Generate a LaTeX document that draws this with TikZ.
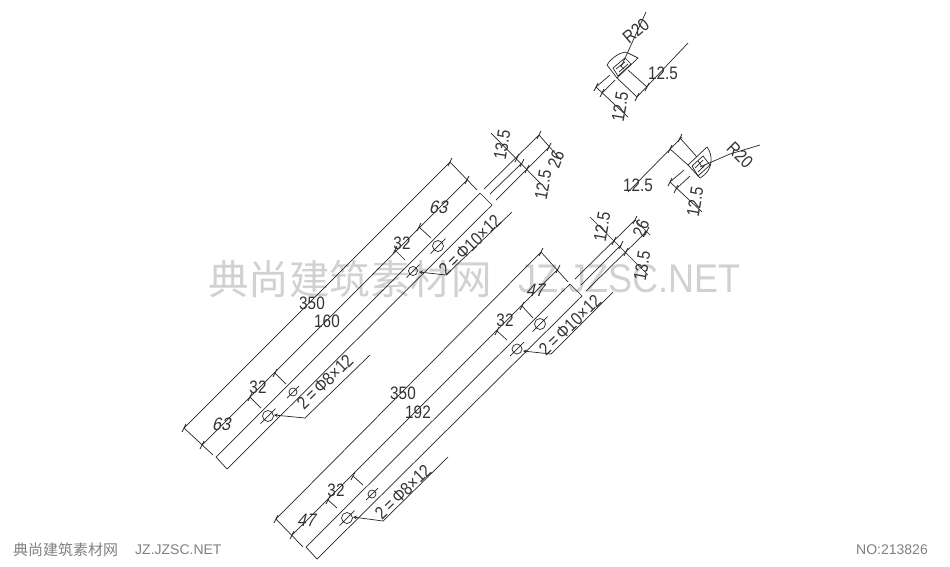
\documentclass[tikz,border=0pt]{standalone}
\usepackage{fontspec}
\setmainfont{Liberation Sans}
\newfontfamily\cjk{Noto Sans CJK SC}
\newfontfamily\cadfont[FakeStretch=0.85]{Liberation Sans}
\newfontfamily\cadslant[FakeStretch=0.9,FakeSlant=0.25]{Liberation Sans}
\newfontfamily\markfont[FakeStretch=0.9]{Liberation Sans}

\tikzset{
  part/.style={line width=0.7pt, black!85},
  leader/.style={part, <-, >=stealth},
  dimtext/.style={inner sep=0pt, black!80, font=\cadfont\fontsize{18}{18}\selectfont},
  slanttext/.style={dimtext, font=\cadslant\fontsize{18}{18}\selectfont},
  holetext/.style={dimtext, rotate=44},
  watermark/.style={inner sep=0pt, black!18},
  footer/.style={inner sep=0pt, black!50, font=\fontsize{14}{14}\selectfont},
}

\begin{document}
\begin{tikzpicture}[x=1pt,y=-1pt]
    \useasboundingbox (0,0) rectangle (950,566);
    % watermark
    \node[watermark, anchor=west, font=\cjk\fontsize{40.5}{40.5}\selectfont] (markcn) at (208,279) {典尚建筑素材网};
    \node[watermark, anchor=west, font=\markfont\fontsize{40}{40}\selectfont] (markla) at (518,279) {JZ.JZSC.NET};
    \node[footer, anchor=west, font=\cjk\fontsize{15}{15}\selectfont] (footcn) at (13,550) {典尚建筑素材网};
    \node[footer, anchor=west] (footla) at (135,550) {JZ.JZSC.NET};
    \node[footer, anchor=east] (footno) at (928,550) {NO:213826};

    % upper beam
    \draw[part] (184,428) -- (450,162);
    \draw[part] (202,445) -- (467,180);
    \draw[part] (216,457) -- (480,193);
    \draw[part] (227,469) -- (492,205);
    \draw[part] (184,428) -- (213,455);
    \draw[part] (450,162) -- (477,190);
    \draw[part] (216,457) -- (227,469);
    \draw[part] (480,193) -- (492,205);
    \draw[part] (250,397) -- (261,408);
    \draw[part] (275,373) -- (286,384);
    \draw[part] (395,250) -- (405,260);
    \draw[part] (419,227) -- (431,238);
    \draw[leader] (274,415) -- (305,418) -- (370,355);
    \draw[leader] (419,272) -- (446,275) -- (512,212);
    % upper beam, broken end
    \draw[part] (484,189) -- (539,135);
    \draw[part] (490,194) -- (522,163);
    \draw[part] (496,200) -- (549,147);
    \draw[part] (491,133) -- (540,183);
    \draw[part] (539,135) -- (561,160);

    % lower beam
    \draw[part] (276,519) -- (541,252);
    \draw[part] (292,535) -- (558,269);
    \draw[part] (306,547) -- (570,284);
    \draw[part] (317,559) -- (582,296);
    \draw[part] (276,519) -- (303,547);
    \draw[part] (541,252) -- (568,282);
    \draw[part] (306,547) -- (317,559);
    \draw[part] (570,284) -- (582,296);
    \draw[part] (328,500) -- (337,508);
    \draw[part] (353,476) -- (363,485);
    \draw[part] (497,331) -- (507,340);
    \draw[part] (522,306) -- (533,318);
    \draw[leader] (353,517) -- (383,521) -- (448,457);
    \draw[leader] (523,351) -- (551,354) -- (613,292);
    % lower beam, broken end
    \draw[part] (575,279) -- (635,220);
    \draw[part] (581,285) -- (621,245);
    \draw[part] (586,291) -- (647,231);
    \draw[part] (590,217) -- (648,275);
    \draw[part] (635,220) -- (650,235);

    % holes
    \foreach \x/\y/\r in {268/416/5.5, 293/392/4, 413/271/4.5, 438/246/5.5,
                          347/518/5.5, 372/494/4, 517/349/5, 540/324/5.5}
        \draw[part] (\x,\y) circle[radius=\r] ++(-\r-2,\r+2) -- ++(2*\r+4,-2*\r-4);

    % ticks
    \foreach \x/\y in {184/428, 202/445, 250/397, 275/373, 395/250, 419/227, 450/162, 467/180,
                       517/158, 522/163, 527/169, 539/135, 549/147,
                       276/519, 292/535, 328/500, 353/476, 497/331, 522/306, 541/252, 558/269,
                       614/241, 621/245, 626/252, 635/220, 647/231,
                       637/97, 647/87, 602/93, 596/87,
                       670/149, 680/138, 670/182, 676/189}
        \draw[part] (\x-2,\y+4) -- (\x+2,\y-4);

    % upper detail
    \draw[part] (607,65) .. controls (612,56) and (625,50) .. (628,53) -- (638,58) -- (617,78) -- cycle;
    \draw[part] (613,68) -- (625,58) -- (631,64) -- (618,76) -- cycle;
    \draw[part] (616,69) -- (625,62) (619,72) -- (628,64) (620,65) -- (624,69);
    \draw[part] (628,70) -- (647,87);
    \draw[part] (617,78) -- (637,97);
    \draw[part] (637,97) -- (688,43);
    \draw[part] (596,87) -- (610,75);
    \draw[part] (602,93) -- (615,80);
    \draw[part] (596,87) -- (628,117);
    \draw[part] (621,67) -- (646,12);

    % right detail
    \draw[part] (688,165) -- (707,147) .. controls (713,155) and (714,170) .. (700,178) -- cycle;
    \draw[part] (692,166) -- (703,156) -- (710,165) -- (698,176) -- cycle;
    \draw[part] (695,168) -- (703,160) (698,172) -- (706,164) (698,161) -- (703,168);
    \draw[part] (670,149) -- (688,165);
    \draw[part] (680,138) -- (697,157);
    \draw[part] (628,192) -- (682,137);
    \draw[part] (670,182) -- (684,170);
    \draw[part] (676,189) -- (690,176);
    \draw[part] (670,182) -- (702,212);
    \draw[part] (700,167) -- (730,154) .. controls (740,151) and (750,148) .. (760,145);

    % labels, upper beam
    \node[dimtext] (upperlen) at (312,303) {350};
    \node[dimtext] (upperpos) at (327,321) {160};
    \node[slanttext] (upperleft) at (221,424) {63};
    \node[dimtext] (upperpitcha) at (258,387) {32};
    \node[slanttext] (upperright) at (438,207) {63};
    \node[dimtext] (upperpitchb) at (402,243) {32};
    \node[holetext] (upperholea) at (325,382) {2\,=\,Φ8×12};
    \node[holetext] (upperholeb) at (470,245) {2\,=\,Φ10×12};
    \node[dimtext, rotate=80] (upperendb) at (502,145) {13.5};
    \node[dimtext, rotate=80] (upperendc) at (543,185) {12.5};
    \node[dimtext, rotate=70] (upperenda) at (556,159) {26};

    % labels, lower beam
    \node[dimtext] (lowerlen) at (403,393) {350};
    \node[dimtext] (lowerpos) at (418,412) {192};
    \node[slanttext] (lowerleft) at (306,520) {47};
    \node[dimtext] (lowerpitcha) at (336,490) {32};
    \node[slanttext] (lowerright) at (535,290) {47};
    \node[dimtext] (lowerpitchb) at (505,320) {32};
    \node[holetext] (lowerholea) at (403,492) {2\,=\,Φ8×12};
    \node[holetext] (lowerholeb) at (570,325) {2\,=\,Φ10×12};
    \node[dimtext, rotate=80] (lowerendb) at (602,227) {12.5};
    \node[dimtext, rotate=70] (lowerenda) at (641,228) {26};
    \node[dimtext, rotate=80] (lowerendc) at (642,266) {13.5};

    % labels, details
    \node[dimtext] (topwidth) at (663,73) {12.5};
    \node[dimtext, rotate=80] (topheight) at (620,107) {12.5};
    \node[dimtext, rotate=40] (topradius) at (636,31) {R20};
    \node[dimtext] (sidewidth) at (638,185) {12.5};
    \node[dimtext, rotate=80] (sideheight) at (695,202) {12.5};
    \node[dimtext, rotate=-45] (sideradius) at (740,155) {R20};
\end{tikzpicture}
\end{document}
